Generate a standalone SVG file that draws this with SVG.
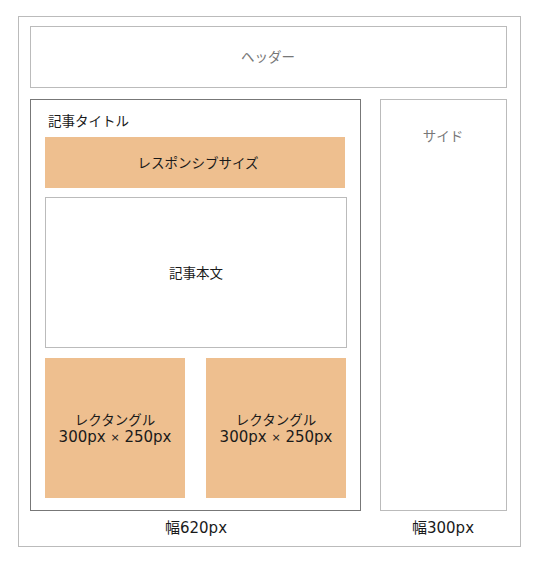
<svg xmlns="http://www.w3.org/2000/svg" width="539" height="562" viewBox="0 0 539 562">
<style>
text{font-family:"Noto Sans CJK JP","Noto Sans",sans-serif;font-size:13.5px;text-anchor:middle;dominant-baseline:central;fill:#1a1a1a}
.n{font-family:"DejaVu Sans","Noto Sans CJK JP",sans-serif;font-size:15px}
.g{fill:#777}
.box{fill:#fff;stroke:#bbb;stroke-width:1}
.ad{fill:#EEBF8F}
</style>
<rect x="0" y="0" width="539" height="562" fill="#fff"/>
<g id="page"><rect class="box" x="18.5" y="16.5" width="502" height="530"/></g>
<g id="header"><rect class="box" x="30.5" y="26.5" width="476" height="61"/><text class="g" x="268" y="56">ヘッダー</text></g>
<g id="main"><rect x="30.5" y="99.5" width="330" height="411" fill="#fff" stroke="#777"/><text x="48" y="120" style="text-anchor:start">記事タイトル</text></g>
<g id="side"><rect class="box" x="380.5" y="99.5" width="126" height="411"/><text class="g" x="443" y="135">サイド</text></g>
<g id="responsive"><rect class="ad" x="45" y="137" width="300" height="51"/><text x="198" y="162">レスポンシブサイズ</text></g>
<g id="body"><rect class="box" x="45.5" y="197.5" width="301" height="150"/><text x="196" y="272">記事本文</text></g>
<g id="rect1"><rect class="ad" x="45" y="358" width="140" height="140"/><text x="115" y="419">レクタングル</text><text class="n" x="115" y="437">300px <tspan font-size="11">×</tspan> 250px</text></g>
<g id="rect2"><rect class="ad" x="206" y="358" width="140" height="140"/><text x="276" y="419">レクタングル</text><text class="n" x="276" y="437">300px <tspan font-size="11">×</tspan> 250px</text></g>
<g id="labels"><text class="n" x="196" y="528">幅620px</text><text class="n" x="443" y="528">幅300px</text></g>
<g id="connectors"></g>
</svg>
